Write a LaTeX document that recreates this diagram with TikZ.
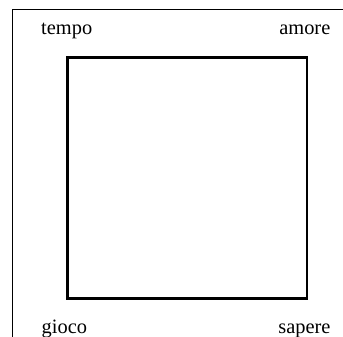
\documentclass[tikz,border=0pt]{standalone}
\usepackage{fontspec}
\setmainfont{Liberation Serif}
\usepackage{tikz}
\usetikzlibrary{positioning}

\begin{document}
\begin{tikzpicture}[x=1pt,y=1pt,
  lbl/.style={inner sep=0pt,font=\fontsize{20.4}{24}\selectfont}]
\useasboundingbox (0,0) rectangle (343,-337);
\draw[line width=0.9pt] (12,-337) -- (12,-9.5) -- (343,-9.5);
\coordinate (tl) at (67.5,-57.5);
\coordinate (br) at (307,-298.5);
\draw[line width=2.6pt] (tl) rectangle (br);
\node[lbl,anchor=base west] (tempo) at (41,-35) {tempo};
\node[lbl,anchor=base east] (amore) at (330.5,-35) {amore};
\node[lbl,anchor=base west] (gioco) at (41.5,-333) {gioco};
\node[lbl,anchor=base east] (sapere) at (330.7,-333) {sapere};
\end{tikzpicture}
\end{document}
